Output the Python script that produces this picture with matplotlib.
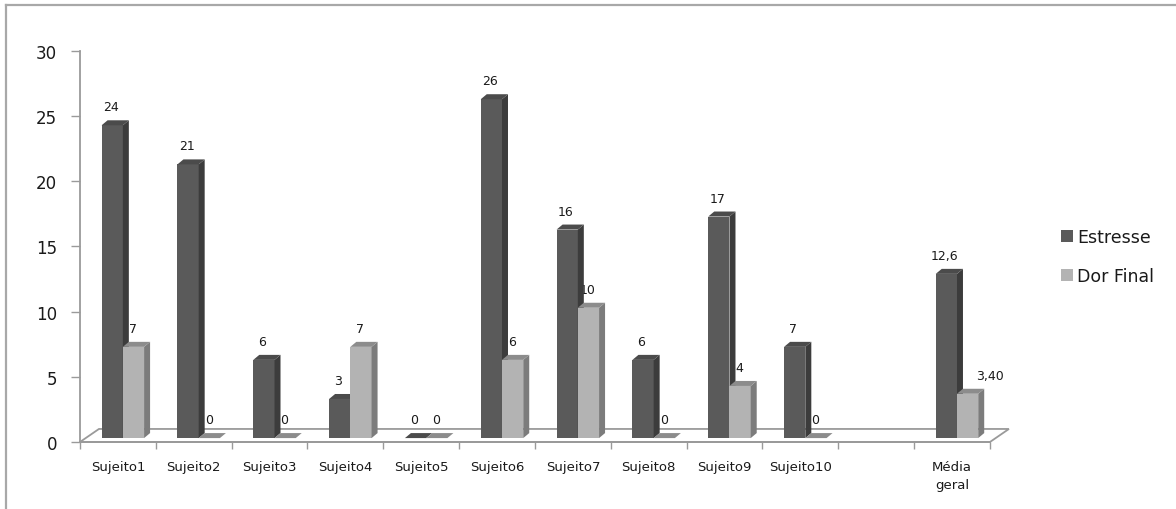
import matplotlib
matplotlib.use("Agg")
import matplotlib.pyplot as plt
from matplotlib.patches import Polygon, Patch
from matplotlib.lines import Line2D

# ---- data ----
categories = ["Sujeito1", "Sujeito2", "Sujeito3", "Sujeito4", "Sujeito5",
              "Sujeito6", "Sujeito7", "Sujeito8", "Sujeito9", "Sujeito10",
              "", "Média\ngeral"]
estresse = [24, 21, 6, 3, 0, 26, 16, 6, 17, 7, None, 12.6]
dor_final = [7, 0, 0, 7, 0, 6, 10, 0, 4, 0, None, 3.40]
estresse_labels = ["24", "21", "6", "3", "0", "26", "16", "6", "17", "7", None, "12,6"]
dor_labels = ["7", "0", "0", "7", "0", "6", "10", "0", "4", "0", None, "3,40"]
series_names = ["Estresse", "Dor Final"]
yticks = [0, 5, 10, 15, 20, 25, 30]

# ---- style ----
W, H = 1176, 510
DPI = 100
PX_CAT = 75.83
PX_VAL = 13.03
AX_L, AX_R, AX_B, AX_T = 80, 1010, 470, 40   # pixel box of axes
Y0_PX = 443

dark = dict(front="#5a5a5a", side="#3c3c3c", top="#4b4b4b")
light = dict(front="#b3b3b3", side="#7c7c7c", top="#8c8c8c")
BASE = 0.3           # bars sit slightly behind the floor front edge
BAR_W = 0.28
OFFSETS = [0.285, 0.565]
DDX, DDY = 6 / PX_CAT, 5 / PX_VAL
FLOOR_DX, FLOOR_DY = 0.25, 1.0
grid_col = "#9a9a9a"

plt.rcParams["font.family"] = ["DejaVu Sans"]
fig = plt.figure(figsize=(W / DPI, H / DPI), dpi=DPI)
ax = fig.add_axes([AX_L / W, (H - AX_B) / H, (AX_R - AX_L) / W, (AX_B - AX_T) / H])
ax.set_xlim(0, (AX_R - AX_L) / PX_CAT)
ax.set_ylim(-(AX_B - Y0_PX) / PX_VAL, 30 + (52 - AX_T) / PX_VAL)

n = len(categories)

# floor
floor = Polygon([(0, 0), (n, 0), (n + FLOOR_DX, FLOOR_DY), (FLOOR_DX, FLOOR_DY)],
                closed=True, facecolor="white", edgecolor=grid_col, lw=1.3, zorder=1)
ax.add_patch(floor)


def draw_series(vals, labels, off, col, z, lab_dx):
    for i, v in enumerate(vals):
        if v is None:
            continue
        xl = i + off
        xr = xl + BAR_W
        b = BASE
        t = BASE + v
        if v > 0:
            ax.bar(xl, v, width=BAR_W, bottom=b, align="edge", color=col["front"],
                   edgecolor="none", zorder=z)
            ax.add_patch(Polygon([(xr, b), (xr + DDX, b + DDY), (xr + DDX, t + DDY), (xr, t)],
                                 closed=True, facecolor=col["side"], edgecolor="none", zorder=z))
        ax.add_patch(Polygon([(xl, t), (xl + DDX, t + DDY), (xr + DDX, t + DDY), (xr, t)],
                             closed=True, facecolor=col["top"], edgecolor="none", zorder=z))
        dx = lab_dx
        if labels[i] == "3,40":
            dx = 22
        ax.annotate(labels[i], xy=((xl + xr) / 2, t), xytext=(dx, 18.5),
                    textcoords="offset pixels", ha="center", va="center",
                    fontsize=9, color="#1a1a1a", zorder=2)


draw_series(estresse, estresse_labels, OFFSETS[0], dark, 3, -1.5)
draw_series(dor_final, dor_labels, OFFSETS[1], light, 4, -0.5)

# axes styling
for s in ["top", "right"]:
    ax.spines[s].set_visible(False)
ax.spines["left"].set_bounds(0, 30)
ax.spines["left"].set_color(grid_col)
ax.spines["left"].set_linewidth(1.3)
ax.spines["bottom"].set_position(("data", 0))
ax.spines["bottom"].set_bounds(0, n)
ax.spines["bottom"].set_color(grid_col)
ax.spines["bottom"].set_linewidth(1.3)
ax.spines["bottom"].set_zorder(1.5)

ax.set_yticks(yticks)
ax.set_yticklabels([str(v) for v in yticks])
ax.tick_params(axis="y", direction="out", length=6.5, width=1, color=grid_col,
               pad=10, labelsize=12, labelcolor="#1a1a1a")

ax.set_xticks(range(n + 1))
ax.set_xticklabels([])
ax.set_xticks([i + 0.5 for i in range(n)], minor=True)
ax.set_xticklabels(categories, minor=True)
ax.tick_params(axis="x", which="major", direction="out", length=5, width=1, color=grid_col)
ax.tick_params(axis="x", which="minor", length=0, pad=13, labelsize=9.5, labelcolor="#1a1a1a")
for lab in ax.get_xticklabels(minor=True):
    lab.set_linespacing(1.5)

# legend
handles = [Patch(facecolor=dark["front"], edgecolor="none"),
           Patch(facecolor=light["front"], edgecolor="none")]
fig.legend(handles, series_names, loc="upper left",
           bbox_to_anchor=(1061 / W, 1 - 229 / H), frameon=False,
           fontsize=12.5, handlelength=0.7, handleheight=0.7, handletextpad=0.25,
           labelspacing=1.2, borderpad=0, borderaxespad=0, labelcolor="#1a1a1a")

# outer chart border (top and left visible)
fig.add_artist(Line2D([6 / W, 1], [1 - 6 / H, 1 - 6 / H], transform=fig.transFigure,
                      color="#a8a8a8", lw=1.6))
fig.add_artist(Line2D([6 / W, 6 / W], [0, 1 - 6 / H], transform=fig.transFigure,
                      color="#a8a8a8", lw=1.6))

fig.savefig("out.png", dpi=DPI)
